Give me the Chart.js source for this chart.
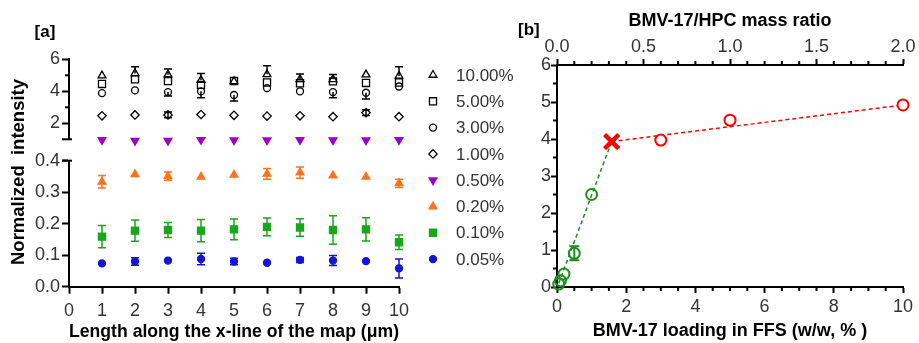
<!DOCTYPE html>
<html><head><meta charset="utf-8">
<script src="https://cdn.jsdelivr.net/npm/chart.js@4.4.1/dist/chart.umd.min.js"></script>
<style>
html,body{margin:0;padding:0;background:#fff;width:919px;height:343px;overflow:hidden}
#wrapL{position:absolute;left:0;top:0;width:530px;height:343px}
#wrapR{position:absolute;left:505px;top:0;width:414px;height:343px}
canvas{display:block}
</style></head><body>
<div id="wrapL"><canvas id="cL" width="530" height="343"></canvas></div>
<div id="wrapR"><canvas id="cR" width="414" height="343"></canvas></div>
<script>
// ---------- Panel [a] data ----------
const positions = [1,2,3,4,5,6,7,8,9,10];
const seriesLabels = ['10.00%','5.00%','3.00%','1.00%','0.50%','0.20%','0.10%','0.05%'];
const v10  = [4.98,5.12,5.04,4.70,4.62,5.06,4.75,4.75,5.04,4.96];
const e10  = [0,0.42,0.35,0.42,0,0.54,0.33,0.30,0,0.58];
const v5   = [4.46,4.75,4.64,4.40,4.64,4.55,4.50,4.62,4.52,4.55];
const v3   = [3.89,4.06,3.95,4.00,3.77,4.20,4.00,3.95,3.91,4.30];
const e3   = [0,0,0.25,0.40,0.38,0,0,0.35,0.39,0];
const v1   = [2.47,2.52,2.52,2.55,2.50,2.45,2.47,2.41,2.66,2.41];
const e1   = [0,0,0.18,0,0,0,0,0,0.18,0];
const v05  = [0.96,0.92,0.92,0.97,0.94,0.94,0.96,0.95,0.94,0.96];
const v02  = [0.333,0.357,0.351,0.349,0.355,0.358,0.362,0.353,0.349,0.328];
const e02  = [0.020,0,0.013,0,0,0.017,0.018,0,0,0.013];
const v01  = [0.159,0.178,0.180,0.178,0.182,0.190,0.188,0.180,0.182,0.141];
const e01  = [0.035,0.034,0.024,0.035,0.033,0.028,0.028,0.045,0.037,0.023];
const v005 = [0.074,0.080,0.083,0.088,0.080,0.076,0.085,0.083,0.081,0.058];
const e005 = [0,0.012,0,0.018,0.010,0,0.008,0.016,0,0.030];
const upperTicks = [2,4,6];
const upperMinor = [1,3,5];

// ---------- Panel [b] data ----------
const loadLow   = [0.05,0.1,0.2,0.5,1.0];
const intLow    = [0.08,0.17,0.35,0.91,2.5];
const errLow    = [0,0,0,0.19,0];
const loadHigh  = [3,5,10];
const intHigh   = [3.97,4.51,4.92];
const breakX    = [1.58];
const breakY    = [3.93];
const fitLowX   = [0.05,1.58];
const fitLowY   = [0.10,3.93];
const fitHighX  = [1.58,10];
const fitHighY  = [3.93,4.92];

const FONT = "'Liberation Sans', Arial, Helvetica, sans-serif";
const tickFont = {family: FONT, size: 18};
const titleFont = {family: FONT, size: 18, weight: 'bold'};
const TICKC = '#333';

const pairs = (xs, ys) => xs.map((x,i)=>({x, y: ys[i]}));

// ---------- plugins ----------
const errorBars = {
  id: 'errorBars',
  afterDatasetsDraw(chart) {
    const ctx = chart.ctx;
    chart.data.datasets.forEach((ds, i) => {
      if (!ds.errors) return;
      const meta = chart.getDatasetMeta(i);
      const xs = chart.scales[meta.xAxisID], ys = chart.scales[meta.yAxisID];
      ctx.save();
      ctx.strokeStyle = ds.errColor || ds.borderColor;
      ctx.lineWidth = ds.errWidth || 1.5;
      const cw = ds.capWidth || 4;
      ds.data.forEach((p, j) => {
        const e = ds.errors[j];
        if (!e) return;
        const x = xs.getPixelForValue(p.x);
        const yc = ys.getPixelForValue(p.y);
        const yt = ys.getPixelForValue(p.y + e);
        const yb = ys.getPixelForValue(p.y - e);
        const dir = ds.errDir || 'both';
        ctx.beginPath();
        if (dir !== 'down') { ctx.moveTo(x, yc); ctx.lineTo(x, yt); ctx.moveTo(x-cw, yt); ctx.lineTo(x+cw, yt); }
        if (dir !== 'up') { ctx.moveTo(x, yc); ctx.lineTo(x, yb); ctx.moveTo(x-cw, yb); ctx.lineTo(x+cw, yb); }
        ctx.stroke();
      });
      ctx.restore();
    });
  }
};

const minorTicks = {
  id: 'minorTicks',
  afterDraw(chart, args, opts) {
    const ctx = chart.ctx;
    ctx.save();
    ctx.strokeStyle = '#000';
    ctx.lineWidth = 2;
    (opts.items || []).forEach(it => {
      const s = chart.scales[it.scale];
      it.values.forEach(v => {
        const p = s.getPixelForValue(v);
        ctx.beginPath();
        if (s.options.position === 'left') { ctx.moveTo(s.right - it.len, p); ctx.lineTo(s.right + (it.over||0), p); }
        else if (s.options.position === 'bottom') { ctx.moveTo(p, s.top); ctx.lineTo(p, s.top + it.len); }
        else { ctx.moveTo(p, s.bottom - it.len); ctx.lineTo(p, s.bottom); }
        ctx.stroke();
      });
    });
    ctx.restore();
  }
};

const texts = {
  id: 'texts',
  afterDraw(chart, args, opts) {
    const ctx = chart.ctx;
    (opts.items || []).forEach(t => {
      ctx.save();
      ctx.font = t.font;
      ctx.fillStyle = t.color || '#000';
      ctx.textAlign = t.align || 'center';
      ctx.textBaseline = 'middle';
      ctx.translate(t.x, t.y);
      if (t.rot) ctx.rotate(t.rot);
      ctx.fillText(t.text, 0, 0);
      ctx.restore();
    });
  }
};

const sideLegend = {
  id: 'sideLegend',
  afterDraw(chart, args, opts) {
    const ctx = chart.ctx;
    chart.data.datasets.forEach((ds, i) => {
      const y = opts.y0 + i * opts.dy;
      ctx.save();
      ctx.fillStyle = ds.pointBackgroundColor;
      ctx.strokeStyle = ds.pointBorderColor;
      ctx.lineWidth = ds.pointBorderWidth;
      Chart.helpers.drawPoint(ctx, {pointStyle: ds.pointStyle, rotation: ds.pointRotation || 0, radius: ds.pointRadius, borderWidth: ds.pointBorderWidth}, opts.xSym, y);
      ctx.font = opts.font;
      ctx.fillStyle = TICKC;
      ctx.textAlign = 'left';
      ctx.textBaseline = 'middle';
      ctx.fillText(ds.label, opts.xText, y + 1);
      ctx.restore();
    });
  }
};

// ---------- Panel [a] ----------
function series(label, vals, yID, style, color, fill, r, rot, errs, dir) {
  return {label, data: pairs(positions, vals), yAxisID: yID, xAxisID: 'x',
    pointStyle: style, pointRotation: rot || 0, pointRadius: r, pointHoverRadius: r,
    pointBorderColor: color, pointBackgroundColor: fill, pointBorderWidth: 1.3,
    borderColor: color, backgroundColor: fill, errors: errs, errDir: dir, clip: false, showLine: false};
}
const HOL = 'rgba(255,255,255,0)';
const dsA = [
  series(seriesLabels[0], v10, 'yU', 'triangle', '#000', HOL, 4.5, 0, e10, 'up'),
  series(seriesLabels[1], v5, 'yU', 'rect', '#000', HOL, 5, 0, null),
  series(seriesLabels[2], v3, 'yU', 'circle', '#000', HOL, 3.5, 0, e3, 'down'),
  series(seriesLabels[3], v1, 'yU', 'rectRot', '#000', HOL, 4.2, 0, e1, 'both'),
  series(seriesLabels[4], v05, 'yU', 'triangle', '#9900cc', '#9900cc', 4.5, 180, null),
  series(seriesLabels[5], v02, 'yL', 'triangle', '#ff7320', '#ff7320', 4.5, 0, e02, 'both'),
  series(seriesLabels[6], v01, 'yL', 'rect', '#1aa61a', '#1aa61a', 5, 0, e01, 'both'),
  series(seriesLabels[7], v005, 'yL', 'circle', '#1414d8', '#1414d8', 3.5, 0, e005, 'both')
];

const axisGrid = {drawOnChartArea: false, tickLength: 7, tickWidth: 2, tickColor: '#000'};
const axisBorder = {color: '#000', width: 2};

new Chart(document.getElementById('cL'), {
  type: 'scatter',
  data: {datasets: dsA},
  options: {
    responsive: false, animation: false, devicePixelRatio: 1,
    layout: {padding: {left: 0, right: 131, top: 59.3, bottom: 0}},
    plugins: {
      legend: {display: false}, tooltip: {enabled: false},
      minorTicks: {items: [
        {scale: 'yU', values: upperMinor.filter(v => v > 1), len: 4},
        {scale: 'yU', values: [1], len: 7, over: 3},
        {scale: 'yL', values: [0.4], len: 7, over: 3}
      ]},
      texts: {items: [
        {text: '[a]', x: 45, y: 32, font: 'bold 17px ' + FONT},
        {text: 'Normalized  intensity', x: 19, y: 172, rot: -Math.PI/2, font: 'bold 18.5px ' + FONT}
      ]},
      sideLegend: {xSym: 433, xText: 456, y0: 75, dy: 26.3, font: '17px ' + FONT}
    },
    scales: {
      x: {type: 'linear', position: 'bottom', min: 0, max: 10,
        ticks: {stepSize: 1, font: tickFont, color: TICKC, padding: 7, maxRotation: 0, autoSkip: false},
        grid: axisGrid, border: axisBorder,
        title: {display: true, text: 'Length along the x-line of the map (μm)', font: {family: FONT, size: 19, weight: 'bold'}, color: '#000', padding: {top: 0, bottom: 0}},
        afterFit: s => { s.height = 56.3; }},
      yU: {type: 'linear', position: 'left', stack: 'ls', stackWeight: 80, weight: 3, min: 1, max: 6,
        afterBuildTicks: s => { s.ticks = upperTicks.map(v => ({value: v})); },
        ticks: {font: tickFont, color: TICKC, padding: 2, autoSkip: false},
        grid: axisGrid, border: axisBorder,
        afterFit: s => { s.width = 69; }},
      yG: {type: 'linear', position: 'left', stack: 'ls', stackWeight: 21.4, weight: 2, min: 0, max: 1,
        ticks: {display: false}, grid: {display: false, drawTicks: false}, border: {display: false},
        afterFit: s => { s.width = 69; }},
      yL: {type: 'linear', position: 'left', stack: 'ls', stackWeight: 126, weight: 1, min: 0, max: 0.4,
        ticks: {stepSize: 0.1, font: tickFont, color: TICKC, padding: 2, autoSkip: false, callback: v => Number(v).toFixed(1)},
        grid: axisGrid, border: axisBorder,
        afterFit: s => { s.width = 69; }}
    }
  },
  plugins: [errorBars, minorTicks, texts, sideLegend]
});

// ---------- Panel [b] ----------
const GREEN = '#1e8c1e', RED = '#ff0000';
new Chart(document.getElementById('cR'), {
  type: 'scatter',
  data: {datasets: [
    {label: 'fit low', data: pairs(fitLowX, fitLowY), showLine: true, borderColor: GREEN, borderWidth: 1.5, borderDash: [4,3], pointRadius: 0, order: 3, clip: false},
    {label: 'fit high', data: pairs(fitHighX, fitHighY), showLine: true, borderColor: RED, borderWidth: 1.5, borderDash: [4,3], pointRadius: 0, order: 3, clip: false},
    {label: 'low', data: pairs(loadLow, intLow), pointStyle: 'circle', pointRadius: 5.5, pointBorderWidth: 2, pointBorderColor: GREEN, pointBackgroundColor: 'rgba(255,255,255,0)', borderColor: GREEN, errors: errLow, errDir: 'both', errWidth: 2, capWidth: 5, order: 1, clip: false},
    {label: 'high', data: pairs(loadHigh, intHigh), pointStyle: 'circle', pointRadius: 5.5, pointBorderWidth: 2, pointBorderColor: RED, pointBackgroundColor: '#fff', borderColor: RED, order: 1, clip: false},
    {label: 'break', data: pairs(breakX, breakY), pointStyle: 'crossRot', pointRadius: 10, pointBorderWidth: 4.5, pointBorderColor: RED, borderColor: RED, order: 0, clip: false}
  ]},
  options: {
    responsive: false, animation: false, devicePixelRatio: 1,
    layout: {padding: {left: 0, right: 16, top: 0, bottom: 0}},
    plugins: {
      legend: {display: false}, tooltip: {enabled: false},
      minorTicks: {items: [
        {scale: 'x', values: [0.5,1,1.5,2.5,3,3.5,4.5,5,5.5,6.5,7,7.5,8.5,9,9.5], len: 4},
        {scale: 'x2', values: [0.1,0.2,0.3,0.4,0.6,0.7,0.8,0.9,1.1,1.2,1.3,1.4,1.6,1.7,1.8,1.9], len: 4},
        {scale: 'y', values: [0.5,1.5,2.5,3.5,4.5,5.5], len: 4}
      ]},
      texts: {items: [
        {text: '[b]', x: 13, y: 30, font: 'bold 17px ' + FONT, align: 'left'}
      ]}
    },
    scales: {
      x: {type: 'linear', position: 'bottom', min: 0, max: 10,
        ticks: {stepSize: 2, font: tickFont, color: TICKC, padding: 3, maxRotation: 0, autoSkip: false},
        grid: {drawOnChartArea: false, tickLength: 6, tickWidth: 2, tickColor: '#000'}, border: axisBorder,
        title: {display: true, text: 'BMV-17 loading in FFS (w/w, % )', font: titleFont, color: '#000', padding: {top: 0, bottom: 1}},
        afterFit: s => { s.height = 56; }},
      x2: {type: 'linear', position: 'top', min: 0, max: 2,
        ticks: {stepSize: 0.5, font: tickFont, color: TICKC, padding: 1, maxRotation: 0, autoSkip: false, callback: v => Number(v).toFixed(1)},
        grid: {drawOnChartArea: false, tickLength: 6, tickWidth: 2, tickColor: '#000'}, border: axisBorder,
        title: {display: true, text: 'BMV-17/HPC mass ratio', font: titleFont, color: '#000', padding: {top: 10, bottom: 0}},
        afterFit: s => { s.height = 65; }},
      y: {type: 'linear', position: 'left', min: 0, max: 6,
        ticks: {stepSize: 1, font: tickFont, color: TICKC, padding: 0, autoSkip: false},
        grid: {drawOnChartArea: false, tickLength: 6, tickWidth: 2, tickColor: '#000'}, border: axisBorder,
        afterFit: s => { s.width = 52; }}
    }
  },
  plugins: [errorBars, minorTicks, texts]
});
</script>
</body></html>
